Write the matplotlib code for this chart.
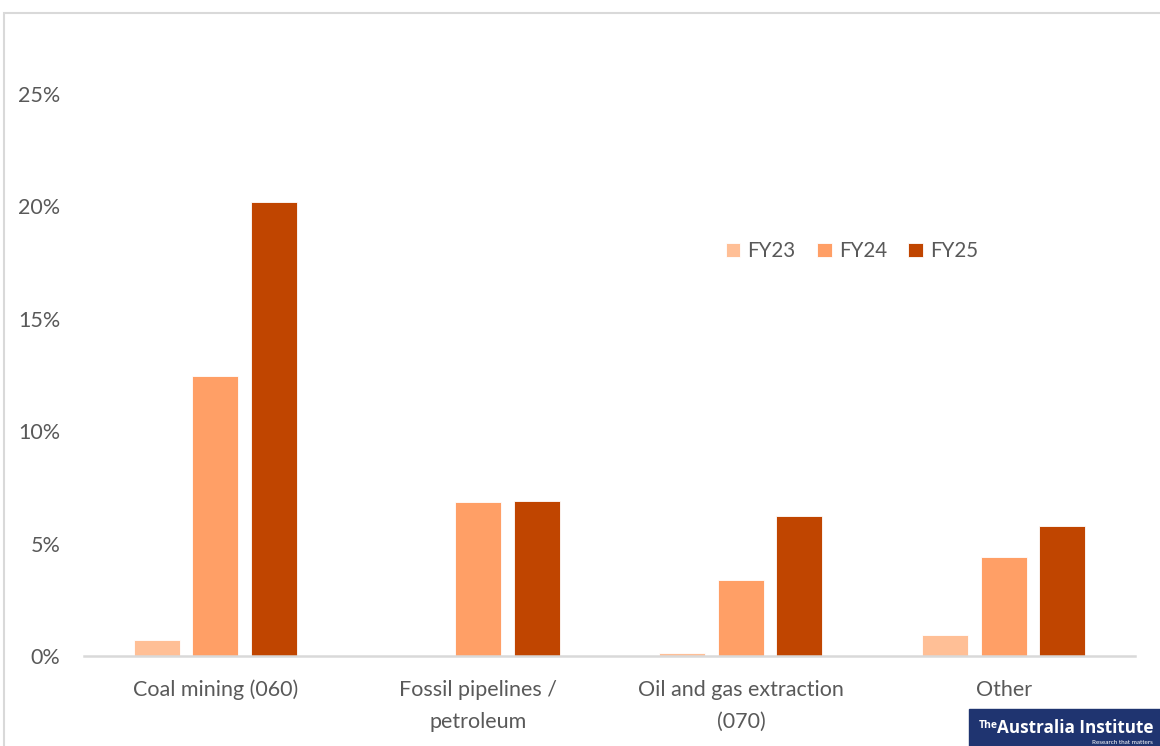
import matplotlib
matplotlib.use("Agg")
import matplotlib.pyplot as plt
import numpy as np
from matplotlib.patches import Rectangle

categories = ["Coal mining (060)", "Fossil pipelines /\npetroleum",
              "Oil and gas extraction\n(070)", "Other"]
series = ["FY23", "FY24", "FY25"]
fy23 = [0.71, 0.0, 0.13, 0.93]
fy24 = [12.46, 6.85, 3.38, 4.40]
fy25 = [20.2, 6.9, 6.23, 5.78]
yticks = [0, 5, 10, 15, 20, 25]
ytick_labels = ["0%", "5%", "10%", "15%", "20%", "25%"]

colors = ["#FFBF96", "#FF9F66", "#C04500"]
text_color = "#595959"
plt.rcParams["font.family"] = ["Lato", "DejaVu Sans"]

W, H = 1160, 746
fig = plt.figure(figsize=(W / 100, H / 100), dpi=100)

# outer chart frame
fig.patches.append(Rectangle((4 / W, -0.05), 1.2, 1 - 13 / H + 0.05,
                             transform=fig.transFigure, fill=False,
                             edgecolor="#D9D9D9", linewidth=1.5))

ax = fig.add_axes([84 / W, 1 - 656 / H, (1135 - 84) / W, (656 - 94) / H])
x = np.arange(len(categories))
width = 0.175
step = 0.223
for i, (vals, name) in enumerate(zip([fy23, fy24, fy25], series)):
    ax.bar(x + (i - 1) * step, vals, width, color=colors[i], label=name,
           edgecolor="white", linewidth=0.6, zorder=2)

ax.set_xlim(-0.5, len(categories) - 0.5)
ax.set_ylim(0, 25)
ax.set_yticks(yticks)
ax.set_yticklabels(ytick_labels)
ax.set_xticks(x)
ax.set_xticklabels(categories, linespacing=1.75)
for s in ["top", "right", "left"]:
    ax.spines[s].set_visible(False)
ax.spines["bottom"].set_color("#D9D9D9")
ax.spines["bottom"].set_linewidth(1.8)
ax.tick_params(axis="y", length=0, pad=17, labelsize=15.5, labelcolor=text_color)
ax.tick_params(axis="x", length=0, pad=17, labelsize=15.5, labelcolor=text_color)
ax.patch.set_alpha(0)

leg = ax.legend(loc="center", bbox_to_anchor=((852 - 84) / (1135 - 84), (656 - 251) / (656 - 94)),
                ncol=3, frameon=False, fontsize=14.8, handlelength=0.7, handleheight=0.7,
                handletextpad=0.35, columnspacing=1.05)
for t in leg.get_texts():
    t.set_color(text_color)

# logo badge
fig.patches.append(Rectangle((969 / W, 0), (W - 969) / W, (746 - 709) / H,
                             transform=fig.transFigure, color="#1F3470", zorder=5))
fig.text(979 / W, 1 - 726 / H, "The", color="white", fontsize=7.5, fontweight="bold",
         va="center", ha="left", zorder=6, family=["Open Sans", "DejaVu Sans"])
fig.text(997 / W, 1 - 728 / H, "Australia Institute", color="white", fontsize=12.3,
         fontweight="bold", va="center", ha="left", zorder=6,
         family=["Open Sans", "DejaVu Sans"])
fig.text(1092 / W, 1 - 742 / H, "Research that matters", color="white", fontsize=4.5,
         va="center", ha="left", zorder=6)

fig.savefig("out.png", dpi=100)
